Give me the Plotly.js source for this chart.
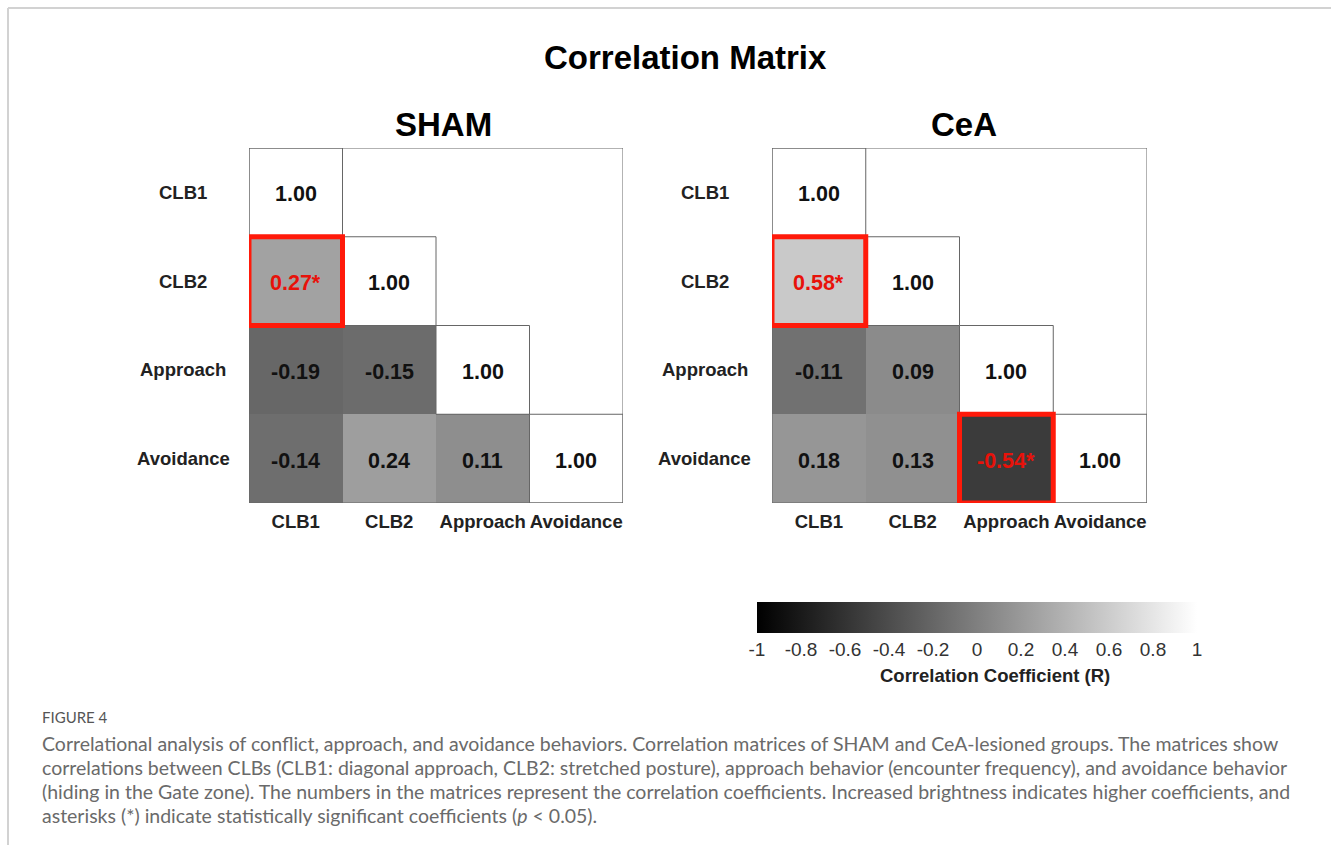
<!DOCTYPE html>
<html>
<head>
<meta charset="utf-8">
<script src="https://cdn.plot.ly/plotly-3.0.1.min.js"></script>
<style>
html,body{margin:0;padding:0;background:#fff;}
#chart{width:1331px;height:845px;}
</style>
</head>
<body>
<div id="chart"></div>
<script>
// ---- data ----
const labels = ['CLB1', 'CLB2', 'Approach', 'Avoidance'];
const shamR = [
  [1.00, null, null, null],
  [0.27, 1.00, null, null],
  [-0.19, -0.15, 1.00, null],
  [-0.14, 0.24, 0.11, 1.00]
];
const ceaR = [
  [1.00, null, null, null],
  [0.58, 1.00, null, null],
  [-0.11, 0.09, 1.00, null],
  [0.18, 0.13, -0.54, 1.00]
];
const shamSig = [
  [0, 0, 0, 0],
  [1, 0, 0, 0],
  [0, 0, 0, 0],
  [0, 0, 0, 0]
];
const ceaSig = [
  [0, 0, 0, 0],
  [1, 0, 0, 0],
  [0, 0, 0, 0],
  [0, 0, 1, 0]
];
const groupNames = ['SHAM', 'CeA'];
const cbTickVals = [-1, -0.8, -0.6, -0.4, -0.2, 0, 0.2, 0.4, 0.6, 0.8, 1];
const cbTickText = ['-1', '-0.8', '-0.6', '-0.4', '-0.2', '0', '0.2', '0.4', '0.6', '0.8', '1'];
const captionHead = 'FIGURE 4';
const captionLines = [
  'Correlational analysis of conflict, approach, and avoidance behaviors. Correlation matrices of SHAM and CeA-lesioned groups. The matrices show',
  'correlations between CLBs (CLB1: diagonal approach, CLB2: stretched posture), approach behavior (encounter frequency), and avoidance behavior',
  '(hiding in the Gate zone). The numbers in the matrices represent the correlation coefficients. Increased brightness indicates higher coefficients, and',
  'asterisks (*) indicate statistically significant coefficients (<i>p</i> &lt; 0.05).'
];

// ---- layout helpers ----
const W = 1331, H = 845;
const px = v => v / W;
const py = v => 1 - v / H;
const FONT = 'Liberation Sans, Arial, sans-serif';
const CAPFONT = 'Lato, Open Sans, sans-serif';
const RED = '#ff1a0a';
const RED_TEXT = '#e8120a';
const idx = labels.map((_, i) => i);

const matrices = [shamR, ceaR];
const sigs = [shamSig, ceaSig];
const axes = [['x', 'y'], ['x2', 'y2']];

const traces = matrices.map((m, k) => ({
  type: 'heatmap',
  z: m,
  x: idx,
  y: idx,
  xaxis: axes[k][0],
  yaxis: axes[k][1],
  zmin: -1, zmax: 1,
  colorscale: [[0, '#000000'], [1, '#ffffff']],
  showscale: k === 1,
  hoverinfo: 'skip',
  colorbar: {
    orientation: 'h',
    x: px(757), xanchor: 'left',
    y: py(602), yanchor: 'top',
    len: 440, lenmode: 'pixels',
    thickness: 31, thicknessmode: 'pixels',
    xpad: 0, ypad: 0,
    outlinewidth: 0,
    tickmode: 'array',
    tickvals: cbTickVals,
    ticktext: cbTickText,
    ticks: '',
    tickfont: {family: FONT, size: 19, color: '#333'}
  }
}));

const annotations = [];
const shapes = [];

// titles
annotations.push({text: 'Correlation Matrix', xref: 'paper', yref: 'paper', x: px(685), y: py(57),
  xanchor: 'center', yanchor: 'middle', showarrow: false,
  font: {family: FONT, size: 33, weight: 700, color: '#000'}});
const groupCenters = [443, 964];
groupNames.forEach((g, k) => {
  annotations.push({text: g, xref: 'paper', yref: 'paper', x: px(groupCenters[k]), y: py(124),
    xanchor: 'center', yanchor: 'middle', showarrow: false,
    font: {family: FONT, size: 33, weight: 700, color: '#000'}});
});

matrices.forEach((m, k) => {
  const [xa, ya] = axes[k];
  // y labels (centred column left of the matrix)
  labels.forEach((lab, i) => {
    annotations.push({text: lab, xref: 'paper', yref: ya, x: px(k === 0 ? 183 : 705), y: i,
      xanchor: 'center', yanchor: 'middle', showarrow: false,
      font: {family: FONT, size: 18.5, weight: 700, color: '#222'}});
  });
  // cell values
  m.forEach((row, i) => row.forEach((v, j) => {
    if (v === null) return;
    const s = sigs[k][i][j];
    annotations.push({text: v.toFixed(2) + (s ? '*' : ''), xref: xa, yref: ya, x: j, y: i,
      showarrow: false, xanchor: 'center', yanchor: 'middle', yshift: -2,
      font: {family: FONT, size: 21.5, weight: 700, color: s ? RED_TEXT : '#111'}});
  }));
  // outer frame
  shapes.push({type: 'rect', xref: xa, yref: ya, x0: -0.5, x1: labels.length - 0.5,
    y0: -0.5, y1: labels.length - 0.5, line: {color: '#666', width: 1}});
  // diagonal cell outlines
  idx.forEach(i => {
    shapes.push({type: 'rect', xref: xa, yref: ya, x0: i - 0.5, x1: i + 0.5,
      y0: i - 0.5, y1: i + 0.5, line: {color: '#666', width: 1}});
  });
  // significant cells
  sigs[k].forEach((row, i) => row.forEach((s, j) => {
    if (!s) return;
    shapes.push({type: 'rect', xref: xa, yref: ya, x0: j - 0.5, x1: j + 0.5,
      y0: i - 0.5, y1: i + 0.5, line: {color: RED, width: 5}});
  }));
});

// colorbar title
annotations.push({text: 'Correlation Coefficient (R)', xref: 'paper', yref: 'paper', x: px(995), y: py(675),
  xanchor: 'center', yanchor: 'middle', showarrow: false,
  font: {family: FONT, size: 18.5, weight: 700, color: '#222'}});

// caption
annotations.push({text: captionHead, xref: 'paper', yref: 'paper', x: px(40), y: py(717),
  xanchor: 'left', yanchor: 'middle', showarrow: false,
  font: {family: CAPFONT, size: 15, color: '#555'}});
captionLines.forEach((t, i) => {
  annotations.push({text: t, xref: 'paper', yref: 'paper', x: px(40), y: py(743 + i * 24),
    xanchor: 'left', yanchor: 'middle', showarrow: false, align: 'left',
    font: {family: CAPFONT, size: 19.5, color: '#6a6a6a'}});
});

// page frame
shapes.push({type: 'line', xref: 'paper', yref: 'paper', x0: px(8), x1: 1, y0: py(8), y1: py(8),
  line: {color: '#d2d2d2', width: 2}});
shapes.push({type: 'line', xref: 'paper', yref: 'paper', x0: px(8), x1: px(8), y0: py(8), y1: 0,
  line: {color: '#d2d2d2', width: 2}});

const xaxisBase = {
  range: [-0.5, labels.length - 0.5],
  tickmode: 'array', tickvals: idx, ticktext: labels,
  tickangle: 0,
  showgrid: false, zeroline: false, showline: false, ticks: '',
  ticklabelstandoff: 5,
  tickfont: {family: FONT, size: 18.5, weight: 700, color: '#222'},
  fixedrange: true
};
const yaxisBase = {
  range: [labels.length - 0.5, -0.5],
  showticklabels: false,
  showgrid: false, zeroline: false, showline: false, ticks: '',
  domain: [py(503), py(148)],
  fixedrange: true
};

const layout = {
  width: W, height: H,
  margin: {l: 0, r: 0, t: 0, b: 0},
  paper_bgcolor: '#fff', plot_bgcolor: '#fff',
  showlegend: false,
  xaxis: Object.assign({}, xaxisBase, {domain: [px(249), px(623)], anchor: 'y'}),
  yaxis: Object.assign({}, yaxisBase, {anchor: 'x'}),
  xaxis2: Object.assign({}, xaxisBase, {domain: [px(772), px(1147)], anchor: 'y2'}),
  yaxis2: Object.assign({}, yaxisBase, {anchor: 'x2'}),
  annotations: annotations,
  shapes: shapes
};

Plotly.newPlot('chart', traces, layout, {staticPlot: true, displayModeBar: false});
</script>
</body>
</html>
